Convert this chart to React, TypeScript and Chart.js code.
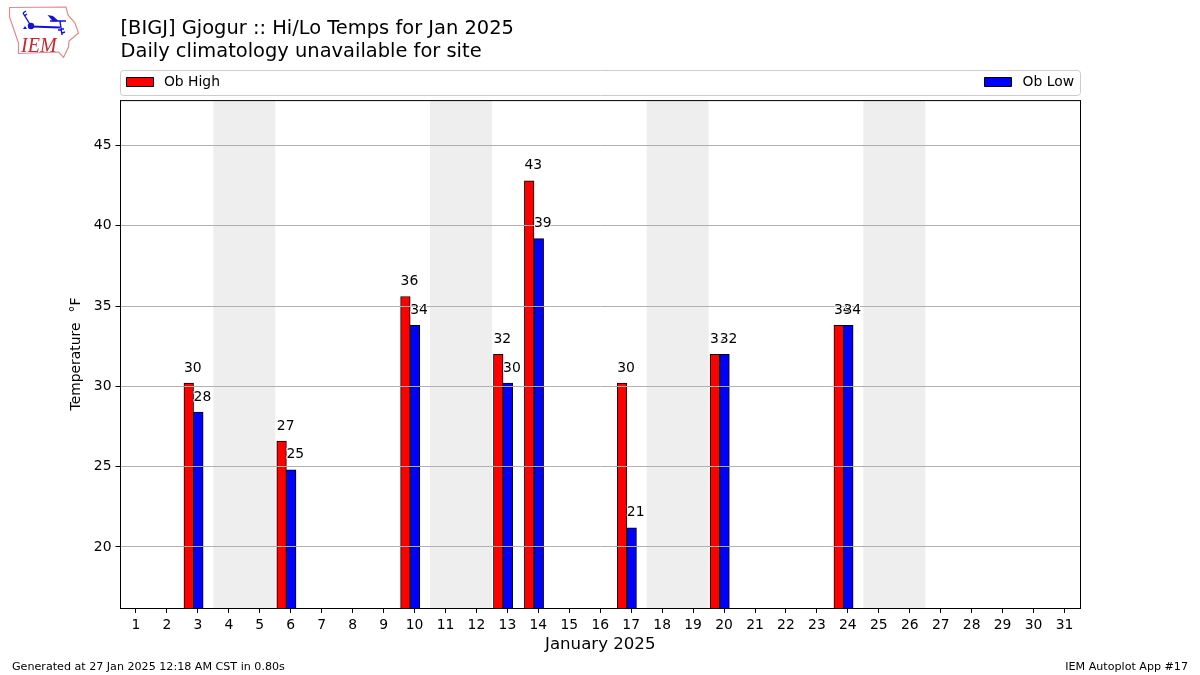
import React, { useEffect, useRef } from "react";
import { Chart, registerables } from "chart.js";

Chart.register(...registerables);

const titleLines = ["[BIGJ] Gjogur :: Hi/Lo Temps for Jan 2025", "Daily climatology unavailable for site"];
const xAxisTitle = "January 2025";
const yAxisTitle = "Temperature \u2009\u2009\u00B0F";
const footerLeft = "Generated at 27 Jan 2025 12:18 AM CST in 0.80s";
const footerRight = "IEM Autoplot App #17";
const days = Array.from({ length: 31 }, (_, i) => i + 1);
const obDays = [3, 6, 10, 13, 14, 17, 20, 24];
const obHigh = [30.2, 26.6, 35.6, 32, 42.8, 30.2, 32, 33.8];
const obLow = [28.4, 24.8, 33.8, 30.2, 39.2, 21.2, 32, 33.8];
const weekendBands = [[4, 5], [11, 12], [18, 19], [25, 26]];
const yTicks = [20, 25, 30, 35, 40, 45];
const FONT = '"DejaVu Sans"';

const fullSeries = (values: number[]) =>
  days.map((d) => {
    const i = obDays.indexOf(d);
    return { x: d, y: i >= 0 ? values[i] : null };
  });

const decorPlugin = {
  id: "decor",
  beforeDatasetsDraw(chart: any) {
    const { ctx, chartArea: a, scales } = chart;
    ctx.save();
    ctx.fillStyle = "#eeeeee";
    for (const [from, to] of weekendBands) {
      const half = (scales.x.getPixelForValue(1) - scales.x.getPixelForValue(0)) / 2;
      const x0 = scales.x.getPixelForValue(from - 1) - half;
      const x1 = scales.x.getPixelForValue(to - 1) + half;
      ctx.fillRect(x0, a.top, x1 - x0, a.bottom - a.top);
    }
    ctx.restore();
  },
  afterDraw(chart: any) {
    const { ctx, chartArea: a } = chart;
    const left = Math.floor(a.left);
    ctx.save();
    // plot frame
    ctx.strokeStyle = "#000";
    ctx.lineWidth = 1;
    ctx.strokeRect(left + 0.5, a.top + 0.5, a.right - left, a.bottom - a.top);

    // value labels: high first, then low over it, each with a white halo
    ctx.font = `13.9px ${FONT}`;
    ctx.textAlign = "left";
    ctx.textBaseline = "alphabetic";
    ctx.lineJoin = "round";
    chart.data.datasets.forEach((ds: any, di: number) => {
      const meta = chart.getDatasetMeta(di);
      meta.data.forEach((bar: any, i: number) => {
        const v = ds.data[i].y;
        if (v === null) return;
        const text = String(Math.round(v));
        const x = bar.x - bar.width / 2;
        const y = bar.y - 11.5;
        ctx.strokeStyle = "#fff";
        ctx.lineWidth = 2;
        ctx.strokeText(text, x, y);
        ctx.fillStyle = "#000";
        ctx.fillText(text, x, y);
      });
    });

    // legend across the top of the plot
    ctx.strokeStyle = "#cccccc";
    ctx.lineWidth = 1;
    ctx.beginPath();
    ctx.roundRect(left + 0.5, 70.5, a.right - left, 25, 3);
    ctx.stroke();
    ctx.textBaseline = "middle";
    const entries = chart.data.datasets.map((ds: any, i: number) => ({
      label: ds.label,
      color: ds.backgroundColor,
      x: i === 0 ? 126.5 : 984.5,
      gap: i === 0 ? 37.4 : 38,
    }));
    for (const e of entries) {
      ctx.fillStyle = e.color;
      ctx.fillRect(e.x, 77.5, 27, 9);
      ctx.strokeStyle = "#000";
      ctx.strokeRect(e.x, 77.5, 27, 9);
      ctx.fillStyle = "#000";
      ctx.fillText(e.label, e.x + e.gap, 82);
    }

    // footer
    ctx.font = `11.11px ${FONT}`;
    ctx.textBaseline = "alphabetic";
    ctx.fillText(footerLeft, 12, 670);
    ctx.textAlign = "right";
    ctx.fillText(footerRight, 1188, 670);
    ctx.restore();
  },
};

function Logo() {
  return (
    <svg width={90} height={64} style={{ position: "absolute", left: 0, top: 0 }}>
      <path
        d="M9.5 7.5 L66 7 L68 15 L75 23 L78.5 33 L69 41 L68.5 47 L63.5 57.5 L58.5 52 L18.5 53.5 L18.5 43 L14 30 L9.5 17 Z"
        fill="none"
        stroke="#e08a8a"
        strokeWidth={1.2}
      />
      <g stroke="#1212d8" fill="none" strokeWidth={1.4}>
        <path d="M31 26 L23 13 M23 13 L26 11 M24.5 16 L27 14" />
        <path d="M31 26.5 L60 27.5" strokeWidth={2} />
        <path d="M50 21 L66 21 M60 21 L62 35 M61 29 L64 29 M62 33 L65 32 M58 30 L61 30" />
      </g>
      <circle cx={31} cy={26} r={3.2} fill="#1212d8" />
      <path d="M47.5 15 L53 16 L58.5 21 L53 21.5 Z" fill="#1212d8" />
      <path d="M23 29 L25 26 L27 29 Z" fill="#1212d8" />
      <text x={21} y={52} fontFamily='"Liberation Serif"' fontStyle="italic" fontSize={20} fill="#c8282d">
        IEM
      </text>
    </svg>
  );
}

export default function App() {
  const ref = useRef<HTMLCanvasElement>(null);
  useEffect(() => {
    const chart = new Chart(ref.current as HTMLCanvasElement, {
      type: "bar",
      data: {
        labels: days.map(String),
        datasets: [
          {
            label: "Ob High",
            data: fullSeries(obHigh) as any,
            backgroundColor: "#ff0000",
            borderColor: "#000",
            borderWidth: 1,
            barThickness: 9.6,
            xAxisID: "xBars",
            yAxisID: "y",
          },
          {
            label: "Ob Low",
            data: fullSeries(obLow) as any,
            backgroundColor: "#0000ff",
            borderColor: "#000",
            borderWidth: 1,
            barThickness: 9.6,
            xAxisID: "xBars",
            yAxisID: "y",
          },
        ],
      },
      options: {
        responsive: false,
        animation: false,
        layout: { padding: { left: 0, right: 120, top: 0, bottom: 0 } },
        plugins: {
          legend: { display: false },
          tooltip: { enabled: false },
          title: {
            display: true,
            text: titleLines,
            align: "start",
            fullSize: false,
            color: "#000",
            font: { family: FONT, size: 19.44, weight: "normal", lineHeight: 1.16 },
            padding: { top: 18, bottom: 37 },
          },
        },
        scales: {
          x: {
            type: "category",
            offset: true,
            afterFit: (s: any) => {
              s.height = 67;
            },
            grid: { offset: false, drawOnChartArea: false, tickLength: 5, tickColor: "#000", tickWidth: 1 },
            border: { display: false },
            ticks: { color: "#000", padding: 4, maxRotation: 0, autoSkip: false, font: { family: FONT, size: 13.9 } },
            title: {
              display: true,
              text: xAxisTitle,
              color: "#000",
              font: { family: FONT, size: 16.6 },
              padding: { top: 0, bottom: 20 },
            },
          },
          xBars: {
            type: "linear",
            axis: "x",
            display: false,
            offset: false,
            min: 0.64,
            max: 31.64,
          },
          y: {
            type: "linear",
            min: 16.2,
            max: 47.83,
            afterFit: (s: any) => {
              s.width = 120.5;
            },
            afterBuildTicks: (s: any) => {
              s.ticks = yTicks.map((value) => ({ value }));
            },
            grid: { color: "#b0b0b0", lineWidth: 1, z: 1, tickLength: 5, tickColor: "#000", tickWidth: 1 },
            border: { display: false },
            ticks: { color: "#000", padding: 4, font: { family: FONT, size: 13.9 } },
            title: {
              display: true,
              text: yAxisTitle,
              color: "#000",
              font: { family: FONT, size: 13.9 },
              padding: { top: 68, bottom: 0 },
            },
          },
        } as any,
      },
      plugins: [decorPlugin],
    });
    return () => chart.destroy();
  }, []);
  return (
    <div style={{ position: "absolute", left: 0, top: 0, width: 1200, height: 675, background: "#fff" }}>
      <canvas ref={ref} width={1200} height={675} style={{ display: "block" }} />
      <Logo />
    </div>
  );
}
